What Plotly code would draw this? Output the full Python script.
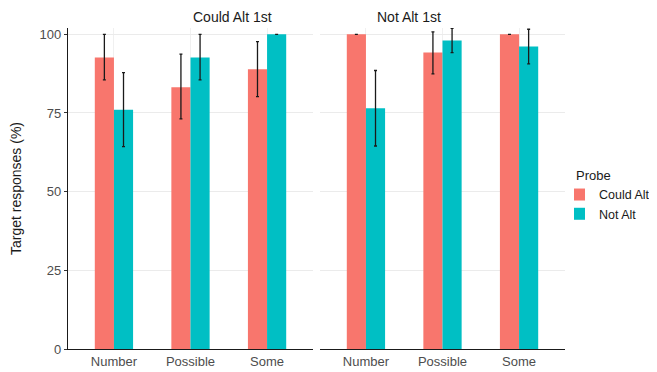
import plotly.graph_objects as go
from plotly.subplots import make_subplots

categories = ["Number", "Possible", "Some"]
panels = ["Could Alt 1st", "Not Alt 1st"]
probes = ["Could Alt", "Not Alt"]

# values per panel, per probe (mean, upper CI, lower CI)
could_alt_1st_could = [92.6, 83.2, 88.9]
could_alt_1st_could_hi = [100.0, 93.7, 97.7]
could_alt_1st_could_lo = [85.5, 73.1, 80.2]
could_alt_1st_not = [76.0, 92.6, 100.0]
could_alt_1st_not_hi = [87.8, 100.0, 100.0]
could_alt_1st_not_lo = [64.3, 85.5, 100.0]

not_alt_1st_could = [100.0, 94.2, 100.0]
not_alt_1st_could_hi = [100.0, 100.8, 100.0]
not_alt_1st_could_lo = [100.0, 87.4, 100.0]
not_alt_1st_not = [76.5, 98.0, 96.1]
not_alt_1st_not_hi = [88.5, 101.9, 101.6]
not_alt_1st_not_lo = [64.5, 94.2, 90.6]

y_ticks = [0, 25, 50, 75, 100]
colors = {"Could Alt": "#F8766D", "Not Alt": "#00BFC4"}

data = {
    "Could Alt 1st": {
        "Could Alt": (could_alt_1st_could, could_alt_1st_could_hi, could_alt_1st_could_lo),
        "Not Alt": (could_alt_1st_not, could_alt_1st_not_hi, could_alt_1st_not_lo),
    },
    "Not Alt 1st": {
        "Could Alt": (not_alt_1st_could, not_alt_1st_could_hi, not_alt_1st_could_lo),
        "Not Alt": (not_alt_1st_not, not_alt_1st_not_hi, not_alt_1st_not_lo),
    },
}

# the page body has an 8px margin, so the figure is drawn 8px in from the window
W, H = 649, 364
ml, mr, mt, mb = 60, 92, 20, 23
pw = W - ml - mr
ph = H - mt - mb

fig = make_subplots(rows=1, cols=2, shared_yaxes=True,
                    horizontal_spacing=7 / pw)

for ci, panel in enumerate(panels):
    for probe in probes:
        mean, hi, lo = data[panel][probe]
        fig.add_trace(go.Bar(
            x=categories, y=mean, name=probe,
            marker=dict(color=colors[probe], line=dict(width=0)),
            showlegend=(ci == 0), legendgroup=probe,
            cliponaxis=False,
            error_y=dict(type="data", symmetric=False,
                         array=[h - m for h, m in zip(hi, mean)],
                         arrayminus=[m - l for m, l in zip(mean, lo)],
                         color="#1a1a1a", thickness=1.3, width=1.5),
        ), row=1, col=ci + 1)

fig.update_layout(
    width=W, height=H,
    margin=dict(l=ml, r=mr, t=mt, b=mb, autoexpand=False),
    paper_bgcolor="white", plot_bgcolor="white",
    barmode="group", bargap=0.5, bargroupgap=0,
    font=dict(family="Liberation Sans, Arial, sans-serif", size=13, color="#1a1a1a"),
    legend=dict(title=dict(text="Probe", font=dict(size=13, color="#1a1a1a")),
                x=(566 - ml) / pw, xanchor="left",
                y=(H - mb - 155) / ph, yanchor="top",
                font=dict(size=12.5, color="#1a1a1a"),
                indentation=-15,
                tracegroupgap=0, itemwidth=30),
)

for ci in range(2):
    fig.update_xaxes(
        range=[-0.6, 2.6], showgrid=True, gridcolor="#f0f0f0", gridwidth=1,
        showline=True, linecolor="#1a1a1a", linewidth=1.2,
        ticks="", tickfont=dict(size=13, color="#4d4d4d"),
        zeroline=False, automargin=False, row=1, col=ci + 1)

fig.update_yaxes(range=[0, 102], tickvals=y_ticks, showgrid=True,
                 gridcolor="#ebebeb", gridwidth=1, zeroline=False, automargin=False)
fig.update_yaxes(showline=True, linecolor="#1a1a1a", linewidth=1.2,
                 ticks="outside", ticklen=3, tickcolor="#333333",
                 tickfont=dict(size=13, color="#4d4d4d"),
                 title=dict(text="Target responses (%)", font=dict(size=14, color="#1a1a1a"),
                            standoff=17),
                 row=1, col=1)
fig.update_yaxes(showline=False, ticks="", row=1, col=2)

for ci, panel in enumerate(panels):
    xa = fig.layout["xaxis" if ci == 0 else "xaxis2"]
    d = xa.domain
    fig.add_annotation(text=panel, xref="paper", yref="paper",
                       x=(d[0] + d[1]) / 2, y=1, yanchor="middle", yshift=11,
                       showarrow=False, font=dict(size=14, color="#1a1a1a"))

fig.write_html("out.html")
